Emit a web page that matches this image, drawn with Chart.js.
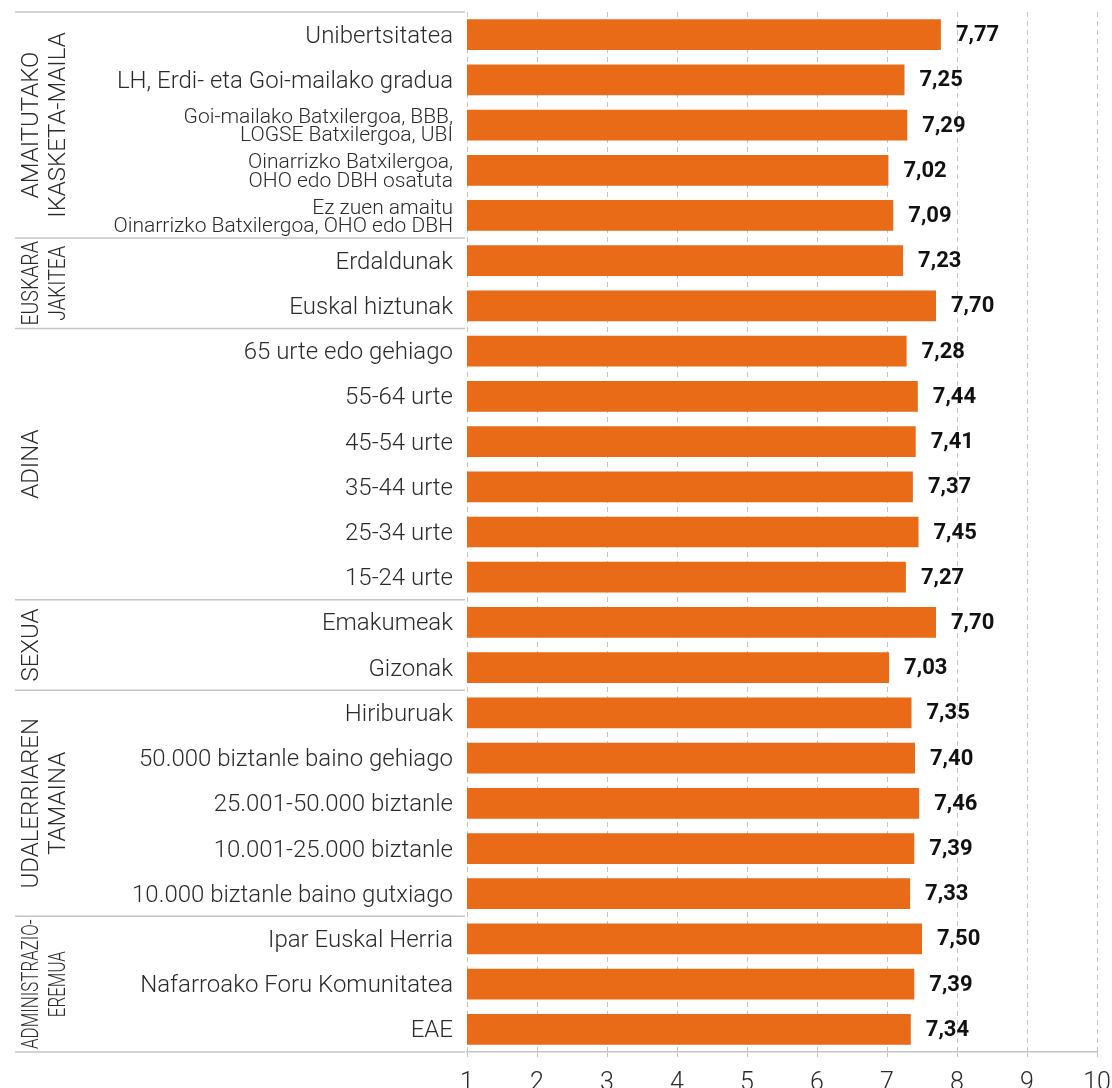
<!DOCTYPE html>
<html>
<head>
<meta charset="utf-8">
<script src="https://cdn.jsdelivr.net/npm/chart.js@4.4.1/dist/chart.umd.min.js"></script>
<style>
  html, body { margin: 0; padding: 0; background: #ffffff; overflow: hidden; }
  #wrap { width: 1112px; height: 1111px; position: relative; }
</style>
</head>
<body>
<div id="wrap"><canvas id="myChart"></canvas></div>
<script>
// categories (multi-line ones as arrays)
const categories = [
  "Unibertsitatea",
  "LH, Erdi- eta Goi-mailako gradua",
  ["Goi-mailako Batxilergoa, BBB,", "LOGSE Batxilergoa, UBI"],
  ["Oinarrizko Batxilergoa,", "OHO edo DBH osatuta"],
  ["Ez zuen amaitu", "Oinarrizko Batxilergoa, OHO edo DBH"],
  "Erdaldunak",
  "Euskal hiztunak",
  "65 urte edo gehiago",
  "55-64 urte",
  "45-54 urte",
  "35-44 urte",
  "25-34 urte",
  "15-24 urte",
  "Emakumeak",
  "Gizonak",
  "Hiriburuak",
  "50.000 biztanle baino gehiago",
  "25.001-50.000 biztanle",
  "10.001-25.000 biztanle",
  "10.000 biztanle baino gutxiago",
  "Ipar Euskal Herria",
  "Nafarroako Foru Komunitatea",
  "EAE"
];

const values = [
  7.77, 7.25, 7.29, 7.02, 7.09,
  7.23, 7.70,
  7.28, 7.44, 7.41, 7.37, 7.45, 7.27,
  7.70, 7.03,
  7.35, 7.40, 7.46, 7.39, 7.33,
  7.50, 7.39, 7.34
];

// group labels on the left and how many categories each one covers
const groupNames = [
  ["AMAITUTAKO", "IKASKETA-MAILA"],
  ["EUSKARA", "JAKITEA"],
  ["ADINA"],
  ["SEXUA"],
  ["UDALERRIAREN", "TAMAINA"],
  ["ADMINISTRAZIO-", "EREMUA"]
];
const groupSizes = [5, 2, 6, 2, 5, 3];

const xTicks = [1, 2, 3, 4, 5, 6, 7, 8, 9, 10];

const BAR_COLOR = "#e96a17";
const TEXT_COLOR = "#2b2b2b";
const LINE_COLOR = "#c4c4c4";

// value labels at the end of each bar
const valueLabels = {
  id: "valueLabels",
  afterDatasetsDraw(chart) {
    const ctx = chart.ctx;
    const meta = chart.getDatasetMeta(0);
    ctx.save();
    ctx.font = "bold 22px Roboto";
    ctx.fillStyle = "#111111";
    ctx.textAlign = "left";
    ctx.textBaseline = "middle";
    meta.data.forEach((bar, i) => {
      const txt = values[i].toFixed(2).replace(".", ",");
      ctx.fillText(txt, bar.x + 15, bar.y + 1);
    });
    ctx.restore();
  }
};

// group separators and rotated group names
const groupPlugin = {
  id: "groupPlugin",
  afterDraw(chart) {
    const ctx = chart.ctx;
    const y = chart.scales.y;
    const step = y.getPixelForValue(1) - y.getPixelForValue(0);
    const left = 15;
    const right = chart.chartArea.left - 2;
    ctx.save();
    ctx.strokeStyle = LINE_COLOR;
    ctx.lineWidth = 1.5;
    let start = 0;
    const drawLine = (py) => {
      ctx.beginPath();
      ctx.moveTo(left, py);
      ctx.lineTo(right, py);
      ctx.stroke();
    };
    drawLine(y.getPixelForValue(0) - step / 2);
    groupSizes.forEach((n, g) => {
      const top = y.getPixelForValue(start) - step / 2;
      const bottom = y.getPixelForValue(start + n - 1) + step / 2;
      drawLine(bottom);
      const lines = groupNames[g];
      const span = bottom - top - 6;
      const cy = (top + bottom) / 2;
      ctx.font = "300 24px Roboto";
      ctx.fillStyle = TEXT_COLOR;
      ctx.textAlign = "center";
      ctx.textBaseline = "middle";
      const widest = Math.max(...lines.map(l => ctx.measureText(l).width));
      const sx = widest > span ? span / widest : 1;
      lines.forEach((l, i) => {
        ctx.save();
        ctx.translate(32 + i * 27, cy);
        ctx.rotate(-Math.PI / 2);
        ctx.scale(sx, 1);
        ctx.fillText(l, 0, 0);
        ctx.restore();
      });
      start += n;
    });
    ctx.restore();
  }
};

const data = {
  labels: categories,
  datasets: [{
    data: values,
    backgroundColor: BAR_COLOR,
    borderWidth: 0,
    barPercentage: 0.68,
    categoryPercentage: 1
  }]
};

const options = {
  indexAxis: "y",
  responsive: true,
  maintainAspectRatio: false,
  animation: false,
  layout: { padding: { top: 12, right: 15, left: 0, bottom: 0 } },
  plugins: {
    legend: { display: false },
    tooltip: { enabled: false }
  },
  scales: {
    x: {
      min: 1,
      max: 10,
      afterBuildTicks: (scale) => { scale.ticks = xTicks.map(v => ({ value: v })); },
      afterFit: (scale) => { scale.paddingLeft = 0; scale.paddingRight = 0; },
      grid: {
        color: LINE_COLOR,
        lineWidth: 1,
        drawTicks: true,
        tickLength: 5
      },
      border: { display: true, color: LINE_COLOR, width: 1.5, dash: [5, 4] },
      ticks: {
        color: TEXT_COLOR,
        padding: 12,
        font: { family: "Roboto", size: 25, weight: "300" }
      }
    },
    y: {
      afterFit: (scale) => {
        scale.width = 467;
        scale.paddingTop = 0;
        scale.paddingBottom = 0;
      },
      grid: { display: false, drawTicks: false },
      border: { display: false },
      ticks: {
        color: TEXT_COLOR,
        padding: 14,
        labelOffset: 2,
        autoSkip: false,
        font: (c) => Array.isArray(categories[c.index])
          ? { family: "Roboto", size: 21, weight: "300", lineHeight: 0.86 }
          : { family: "Roboto", size: 24, weight: "300" }
      }
    }
  }
};

const ctx = document.getElementById("myChart").getContext("2d");
const myChart = new Chart(ctx, {
  type: "bar",
  data: data,
  options: options,
  plugins: [valueLabels, groupPlugin]
});
</script>
</body>
</html>
